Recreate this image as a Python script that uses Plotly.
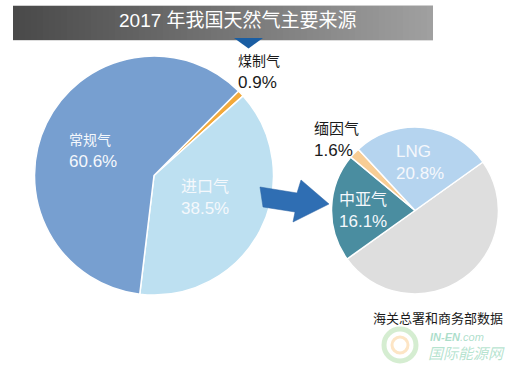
import plotly.graph_objects as go

W, H = 517, 366

# ---- data ----
title_text = "2017 年我国天然气主要来源"
left_labels = ["煤制气", "进口气", "常规气"]
left_values = [0.9, 38.5, 60.6]
right_labels = ["其他", "中亚气", "缅因气", "LNG"]
right_values = [38.5, 16.1, 1.6, 20.8]  # "其他" share as drawn in the picture
source_text = "海关总署和商务部数据"

left_colors = ["#f2a93b", "#bde0f1", "#779fd0"]
right_colors = ["#dedede", "#4a8da0", "#f8cd95", "#b5d4ef"]

FONT = "Liberation Sans, Noto Sans CJK SC"
CJK = "Noto Sans CJK SC"

def px(x):
    return x / W

def py(y):
    return 1 - y / H

fig = go.Figure()

# left pie: centre (154,176), r 120
fig.add_trace(go.Pie(
    labels=left_labels, values=left_values, sort=False, direction="clockwise",
    rotation=45, textinfo="none", hoverinfo="label+value",
    marker=dict(colors=left_colors, line=dict(color="white", width=1.5)),
    domain=dict(x=[px(34), px(274)], y=[py(295), py(56)]),
    showlegend=False,
))
# right pie: centre (415,211), r 84
fig.add_trace(go.Pie(
    labels=right_labels, values=right_values, sort=False, direction="clockwise",
    rotation=54.5, textinfo="none", hoverinfo="label+value",
    marker=dict(colors=right_colors, line=dict(color="white", width=1.5)),
    domain=dict(x=[px(331), px(499)], y=[py(294), py(127)]),
    showlegend=False,
))

shapes = []
# title banner with gradient (strips)
x0b, x1b, y0b, y1b = 13, 433, 5, 40
n = 70
c0 = (0x4a, 0x4a, 0x4a)
c1 = (0xa0, 0xa0, 0xa0)
for i in range(n):
    t = i / (n - 1)
    c = tuple(int(c0[k] + (c1[k] - c0[k]) * t) for k in range(3))
    xa = x0b + (x1b - x0b) * i / n
    xb = x0b + (x1b - x0b) * (i + 1) / n + 0.5
    shapes.append(dict(type="rect", xref="paper", yref="paper",
                       x0=px(xa), x1=px(min(xb, x1b)), y0=py(y1b), y1=py(y0b),
                       fillcolor="rgb(%d,%d,%d)" % c, line=dict(width=0), layer="below"))
shapes.append(dict(type="line", xref="paper", yref="paper", x0=px(x0b), x1=px(x1b),
                   y0=py(5.5), y1=py(5.5), line=dict(color="#cfcfcf", width=1)))
shapes.append(dict(type="line", xref="paper", yref="paper", x0=px(x0b), x1=px(x1b),
                   y0=py(40.5), y1=py(40.5), line=dict(color="#dddddd", width=1)))

def path(pts):
    return "M " + " L ".join("%.5f,%.5f" % (px(x), py(y)) for x, y in pts) + " Z"

# down triangle under title
shapes.append(dict(type="path", xref="paper", yref="paper",
                   path=path([(234, 38), (263, 38), (248.5, 48.5)]),
                   fillcolor="#1a5ea3", line=dict(width=0)))
# arrow between pies
shapes.append(dict(type="path", xref="paper", yref="paper",
                   path=path([(260, 187), (297, 193), (301, 180), (329, 204),
                              (293, 222), (295, 212), (263, 207)]),
                   fillcolor="#2f6eb3", line=dict(color="#2a63a3", width=0.5)))

# watermark logo (faded)
shapes.append(dict(type="circle", xref="paper", yref="paper",
                   x0=px(384), x1=px(416), y0=py(361), y1=py(329),
                   line=dict(color="rgba(150,210,140,0.4)", width=5)))
shapes.append(dict(type="circle", xref="paper", yref="paper",
                   x0=px(392), x1=px(408), y0=py(353), y1=py(337),
                   line=dict(color="rgba(250,190,110,0.4)", width=3)))

annotations = []
annotations.append(dict(text=title_text, x=px(238), y=py(21), xref="paper", yref="paper",
                        showarrow=False, font=dict(family=FONT, size=19, color="white"),
                        xanchor="center", yanchor="middle"))

def lab(name, val, x, y, color, csize=15, nsize=17):
    txt = ('<span style="font-size:%dpx">%s</span><br>%s%%' % (csize, name, val))
    annotations.append(dict(text=txt, x=px(x), y=py(y),
                            xref="paper", yref="paper", showarrow=False, align="left",
                            font=dict(family=FONT, size=nsize, color=color),
                            xanchor="center", yanchor="middle"))

white = "#f5f8fc"
lab(left_labels[2], left_values[2], 93, 151, white, 14)
lab(left_labels[1], left_values[1], 205, 198, white, 16)
lab(left_labels[0], left_values[0], 259, 72, "#1a1a1a", 14)
lab(right_labels[3], right_values[3], 420, 162, white, 17)
lab(right_labels[1], right_values[1], 363, 211, white, 16)
lab(right_labels[2], right_values[2], 336, 140, "#1a1a1a", 15)

annotations.append(dict(text=source_text, x=px(505), y=py(317), xref="paper", yref="paper",
                        showarrow=False, font=dict(family=CJK, size=13, color="#1a1a1a"),
                        xanchor="right", yanchor="middle"))
annotations.append(dict(text="<i><b>IN-EN</b>.com</i>", x=px(428), y=py(337), xref="paper", yref="paper",
                        showarrow=False, font=dict(family="Liberation Sans", size=11, color="rgba(90,190,150,0.5)"),
                        xanchor="left", yanchor="middle"))
annotations.append(dict(text="<i>国际能源网</i>", x=px(426), y=py(352), xref="paper", yref="paper",
                        showarrow=False, font=dict(family=CJK, size=15, color="rgba(110,200,160,0.5)"),
                        xanchor="left", yanchor="middle"))

fig.update_layout(
    width=W, height=H, margin=dict(l=0, r=0, t=0, b=0),
    paper_bgcolor="white", plot_bgcolor="white",
    shapes=shapes, annotations=annotations,
    font=dict(family=FONT),
)

fig.write_html("out.html", config={"displayModeBar": False},
               post_script="document.body.style.margin='0px';document.body.style.overflow='hidden';")
